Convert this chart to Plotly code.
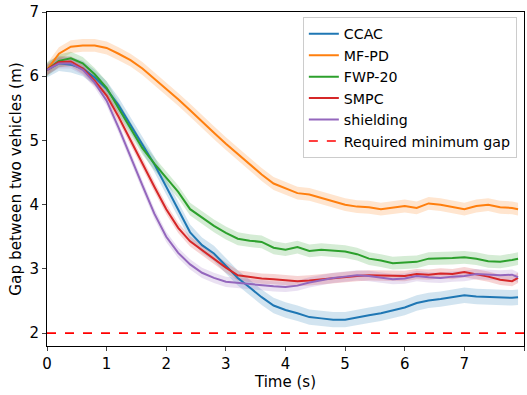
import plotly.graph_objects as go

time_s = [0.0, 0.2, 0.4, 0.6, 0.8, 1.0, 1.2, 1.4, 1.6, 1.8,
          2.0, 2.2, 2.4, 2.6, 2.8, 3.0, 3.2, 3.4, 3.6, 3.8,
          4.0, 4.2, 4.4, 4.6, 4.8, 5.0, 5.2, 5.4, 5.6, 5.8,
          6.0, 6.2, 6.4, 6.6, 6.8, 7.0, 7.2, 7.4, 7.6, 7.8, 7.9]

ccac = [6.10, 6.20, 6.18, 6.12, 5.98, 5.80, 5.55, 5.24, 4.92, 4.63,
        4.28, 3.92, 3.57, 3.37, 3.24, 3.05, 2.86, 2.71, 2.56, 2.43,
        2.36, 2.31, 2.25, 2.23, 2.21, 2.21, 2.25, 2.28, 2.31, 2.36,
        2.40, 2.47, 2.51, 2.53, 2.56, 2.59, 2.57, 2.56, 2.56, 2.55, 2.56]

mfpd = [6.10, 6.35, 6.46, 6.48, 6.48, 6.44, 6.35, 6.25, 6.12, 5.96,
        5.81, 5.64, 5.47, 5.29, 5.12, 4.95, 4.79, 4.62, 4.47, 4.33,
        4.26, 4.18, 4.16, 4.11, 4.05, 4.00, 3.97, 3.96, 3.93, 3.96,
        3.98, 3.95, 4.02, 4.00, 3.96, 3.93, 3.98, 4.00, 3.96, 3.95, 3.93]

fwp20 = [6.10, 6.24, 6.28, 6.20, 6.03, 5.82, 5.50, 5.19, 4.88, 4.64,
         4.42, 4.20, 3.93, 3.80, 3.67, 3.56, 3.47, 3.44, 3.42, 3.33,
         3.30, 3.34, 3.28, 3.30, 3.29, 3.27, 3.23, 3.16, 3.13, 3.09,
         3.10, 3.11, 3.16, 3.16, 3.17, 3.18, 3.16, 3.12, 3.11, 3.14, 3.16]

smpc = [6.10, 6.22, 6.23, 6.12, 5.93, 5.70, 5.37, 5.00, 4.64, 4.28,
        3.93, 3.64, 3.43, 3.29, 3.15, 3.02, 2.90, 2.87, 2.85, 2.84,
        2.82, 2.81, 2.82, 2.84, 2.86, 2.87, 2.89, 2.90, 2.90, 2.89,
        2.89, 2.92, 2.91, 2.93, 2.92, 2.95, 2.92, 2.88, 2.83, 2.81, 2.86]

shielding = [6.10, 6.20, 6.20, 6.10, 5.90, 5.62, 5.20, 4.74, 4.30, 3.86,
             3.50, 3.25, 3.07, 2.94, 2.86, 2.80, 2.78, 2.76, 2.75, 2.73,
             2.72, 2.74, 2.79, 2.83, 2.86, 2.88, 2.90, 2.89, 2.87, 2.84,
             2.85, 2.89, 2.87, 2.86, 2.88, 2.89, 2.92, 2.91, 2.90, 2.91, 2.87]

series_names = ["CCAC", "MF-PD", "FWP-20", "SMPC", "shielding"]
series_values = [ccac, mfpd, fwp20, smpc, shielding]
series_spread = [0.12, 0.10, 0.10, 0.08, 0.08]
series_colors = ["#1f77b4", "#ff7f0e", "#2ca02c", "#d62728", "#9467bd"]
band_colors = ["rgba(31,119,180,0.2)", "rgba(255,127,14,0.2)", "rgba(44,160,44,0.2)",
               "rgba(214,39,40,0.2)", "rgba(148,103,189,0.2)"]

min_gap = 2.0
x_ticks = [0, 1, 2, 3, 4, 5, 6, 7, 8]
y_ticks = [2, 3, 4, 5, 6, 7]

fig = go.Figure()

for vals, sd, bc in zip(series_values, series_spread, band_colors):
    upper = [v + sd for v in vals]
    lower = [v - sd for v in vals]
    fig.add_trace(go.Scatter(x=time_s, y=upper, mode="lines", line=dict(width=0),
                             showlegend=False, hoverinfo="skip"))
    fig.add_trace(go.Scatter(x=time_s, y=lower, mode="lines", line=dict(width=0),
                             fill="tonexty", fillcolor=bc, showlegend=False, hoverinfo="skip"))

for name, vals, col in zip(series_names, series_values, series_colors):
    fig.add_trace(go.Scatter(x=time_s, y=vals, mode="lines", name=name,
                             line=dict(color=col, width=2)))

fig.add_trace(go.Scatter(x=[0, 8], y=[min_gap, min_gap], mode="lines",
                         name="Required minimum gap",
                         line=dict(color="red", width=1.6, dash="dash")))

font_family = "DejaVu Sans"
fig.update_layout(
    width=527, height=395,
    margin=dict(l=47, r=3, t=12, b=49),
    paper_bgcolor="white", plot_bgcolor="white",
    font=dict(family=font_family, size=14, color="black"),
    legend=dict(x=0.985, y=0.985, xanchor="right", yanchor="top",
                traceorder="normal",
                bgcolor="rgba(255,255,255,0.8)", bordercolor="#cccccc", borderwidth=1,
                font=dict(size=14.2), tracegroupgap=0),
    showlegend=True,
)
fig.update_xaxes(range=[0, 8], tickvals=x_ticks, ticks="outside", ticklen=4,
                 showgrid=False, zeroline=False, showline=True, linecolor="black",
                 linewidth=1, mirror=True, automargin=False,
                 title=dict(text="Time (s)", standoff=3, font=dict(size=15)),
                 tickfont=dict(size=15))
fig.update_yaxes(range=[1.8, 7], tickvals=y_ticks, ticks="outside", ticklen=4,
                 showgrid=False, zeroline=False, showline=True, linecolor="black",
                 linewidth=1, mirror=True, automargin=False,
                 title=dict(text="Gap between two vehicles (m)", standoff=4, font=dict(size=15.3)),
                 tickfont=dict(size=15))

fig.write_html("out.html", config={"displayModeBar": False},
               post_script="document.body.style.margin='0';document.body.style.overflow='hidden';")
